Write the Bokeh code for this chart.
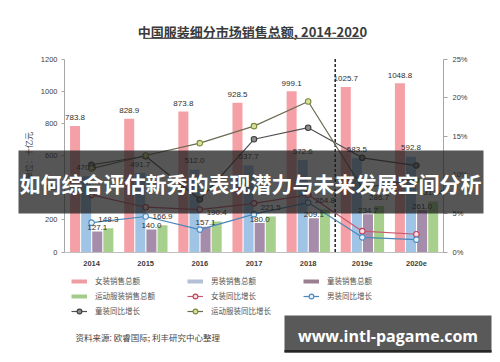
from bokeh.plotting import figure
from bokeh.models import (Range1d, LinearAxis, FixedTicker, PrintfTickFormatter, Label,
                          BoxAnnotation, Legend, LegendItem, ColumnDataSource)
from bokeh.transform import dodge
from bokeh.core.properties import value
from bokeh.embed import file_html
from bokeh.resources import INLINE

# ---------------- data ----------------
years = ["2014", "2015", "2016", "2017", "2018", "2019e", "2020e"]
women_sales = [783.8, 828.9, 873.8, 928.5, 999.1, 1025.7, 1048.8]
men_sales = [470.3, 491.7, 512.0, 537.7, 572.6, 583.5, 592.8]
kids_sales = [127.1, 140.0, 157.1, 180.0, 209.1, 234.7, 261.0]
sports_sales = [148.3, 166.9, 190.4, 221.5, 264.8, 286.7, 313.4]

women_growth = [7.4, 5.8, 5.5, 6.3, 7.4, 2.7, 2.3]
men_growth = [3.8, 4.6, 2.9, 4.9, 6.4, 1.9, 1.6]
kids_growth = [11.3, 12.4, 6.8, 14.6, 16.1, 12.2, 11.2]
sports_growth = [10.8, 12.5, 14.1, 16.3, 19.5, 8.3, 9.3]

left_ticks = [0, 200, 400, 600, 800, 1000, 1200]
right_ticks = [0, 5, 10, 15, 20, 25]
forecast_start = "2019e"

title_text = "中国服装细分市场销售总额, 2014-2020"
unit_text = "单位：十亿元"
source_text = "资料来源: 欧睿国际; 利丰研究中心整理"
banner_text = "如何综合评估新秀的表现潜力与未来发展空间分析"
watermark_text = "www.intl-pagame.com"

sales_names = ["女装销售总额", "男装销售总额", "童装销售总额", "运动服装销售总额"]
growth_names = ["女装同比增长", "男装同比增长", "童装同比增长", "运动服装同比增长"]

# ---------------- layout / styles ----------------
W, H = 500, 362
PLOT_L, PLOT_R, PLOT_T, PLOT_B = 64, 443, 58.5, 251.5   # chart area in canvas px
CJK = "Noto Sans CJK SC"
NUM = "Liberation Sans"
bar_colors = ["#f4a0a6", "#9fc4e6", "#a68cab", "#a8d08d"]
legend_bar_colors = ["#f09ca3", "#b3c0d8", "#9a7f90", "#a3cc8a"]
line_colors = ["#c85a6e", "#4a86b8", "#505050", "#6b6b52"]
marker_lines = ["#c0405a", "#4a8ac0", "#3c3c3c", "#7a8a3a"]
marker_fills = ["#f8dde3", "#e6f0fa", "#8c8c8c", "#d6e29c"]
bar_offsets = [-0.305, -0.1, 0.105, 0.31]
bar_width = 0.185
label_offsets = [50, 55, 25, 55]

n = len(years)
xs = [i + 0.5 for i in range(n)]
px_x = (PLOT_R - PLOT_L) / n
px_y = (PLOT_B - PLOT_T) / (left_ticks[-1] - left_ticks[0])
px_p = (PLOT_B - PLOT_T) / (right_ticks[-1] - right_ticks[0])
x_range = Range1d(-PLOT_L / px_x, n + (W - PLOT_R) / px_x)
y_range = Range1d(left_ticks[0] - (H - PLOT_B) / px_y, left_ticks[-1] + PLOT_T / px_y)
p_range = Range1d(right_ticks[0] - (H - PLOT_B) / px_p, right_ticks[-1] + PLOT_T / px_p)

src = ColumnDataSource(dict(
    x=xs,
    s0=women_sales, s1=men_sales, s2=kids_sales, s3=sports_sales,
    t0=[f"{v:.1f}" for v in women_sales], t1=[f"{v:.1f}" for v in men_sales],
    t2=[f"{v:.1f}" for v in kids_sales], t3=[f"{v:.1f}" for v in sports_sales],
    g0=women_growth, g1=men_growth, g2=kids_growth, g3=sports_growth,
))

p = figure(width=W, height=H, title=None, x_range=x_range, y_range=y_range,
           output_backend="svg", toolbar_location=None,
           min_border=0, min_border_left=0, min_border_right=0,
           min_border_top=0, min_border_bottom=0)
p.extra_y_ranges = {"pct": p_range}
p.outline_line_color = None
p.xgrid.visible = False
p.ygrid.visible = False
p.background_fill_color = "white"
p.border_fill_color = "white"

# axes (fixed inside the full-canvas frame)
xa = p.xaxis[0]
xa.fixed_location = left_ticks[0]
xa.bounds = (0, n)
xa.ticker = FixedTicker(ticks=xs)
xa.major_label_overrides = {x: y for x, y in zip(xs, years)}
xa.axis_line_color = "#bfbfbf"
xa.major_tick_line_color = None
xa.minor_tick_line_color = None
xa.major_label_text_font = NUM
xa.major_label_text_font_size = "7.5px"
xa.major_label_text_font_style = "bold"
xa.major_label_text_color = "#404040"
xa.major_label_standoff = 3

ya = p.yaxis[0]
ya.fixed_location = 0
ya.bounds = (left_ticks[0], left_ticks[-1])
ya.ticker = FixedTicker(ticks=left_ticks)
ya.axis_line_color = "#a6a6a6"
ya.major_tick_line_color = "#a6a6a6"
ya.major_tick_in = 0
ya.major_tick_out = 3
ya.minor_tick_line_color = None
ya.major_label_text_font = NUM
ya.major_label_text_font_size = "7.5px"
ya.major_label_text_color = "#404040"
ya.major_label_standoff = 4
ya.axis_label = unit_text
ya.axis_label_text_font = CJK
ya.axis_label_text_font_size = "8px"
ya.axis_label_text_font_style = "normal"
ya.axis_label_text_color = "#404040"
ya.axis_label_standoff = 4

ra = LinearAxis(y_range_name="pct", ticker=FixedTicker(ticks=right_ticks),
                formatter=PrintfTickFormatter(format="%d%%"),
                fixed_location=n, bounds=(right_ticks[0], right_ticks[-1]))
ra.axis_line_color = "#a6a6a6"
ra.major_tick_line_color = "#a6a6a6"
ra.major_tick_in = 0
ra.major_tick_out = 4
ra.minor_tick_line_color = None
ra.major_label_text_font = NUM
ra.major_label_text_font_size = "7.5px"
ra.major_label_text_color = "#404040"
ra.major_label_standoff = 5
p.add_layout(ra, "right")

# bars
for i in range(4):
    p.vbar(x=dodge("x", bar_offsets[i]), top=f"s{i}", bottom=0,
           width=bar_width, source=src, fill_color=bar_colors[i], line_color=None)

# forecast divider (boundary before the first forecast year)
b = years.index(forecast_start)
p.segment(x0=[b], x1=[b], y0=[left_ticks[0]], y1=[left_ticks[-1]],
          line_color="#222222", line_width=1.5, line_dash="3 2")

# growth lines
line_rs, mark_rs = [], []
for i in range(4):
    lr = p.line(x="x", y=f"g{i}", source=src, y_range_name="pct",
                line_color=line_colors[i], line_width=1.2)
    mr = p.scatter(x="x", y=f"g{i}", source=src, y_range_name="pct", size=5.5,
                   fill_color=marker_fills[i], line_color=marker_lines[i], line_width=1.1)
    line_rs.append(lr)
    mark_rs.append(mr)

# value labels
for i in range(4):
    p.text(x=dodge("x", bar_offsets[i]), y=dodge(f"s{i}", label_offsets[i]),
           text=f"t{i}", source=src, text_align="center", text_baseline="middle",
           text_font=value(NUM), text_font_size="8px", text_color="#303030")

# legend-only renderers for the bar series (NaN data: nothing drawn in the plot)
nan = float("nan")
bar_leg_rs = [p.line(x=[nan, nan], y=[nan, nan], line_color=legend_bar_colors[i], line_width=4)
              for i in range(4)]

def item(k, kind):
    if kind == "bar":
        return LegendItem(label=sales_names[k], renderers=[bar_leg_rs[k]])
    return LegendItem(label=growth_names[k], renderers=[line_rs[k], mark_rs[k]])

columns = [
    ([item(0, "bar"), item(3, "bar"), item(2, "line")], 71, H - 316.5),
    ([item(1, "bar"), item(0, "line"), item(3, "line")], 187, H - 316.5),
    ([item(2, "bar"), item(1, "line")], 303, H - 301.5),
]
for items, lx, ly in columns:
    lg = Legend(items=items, location=(lx, ly), orientation="vertical",
                padding=0, margin=0, spacing=3, glyph_width=16, glyph_height=12,
                label_height=12, label_standoff=8,
                label_text_font=CJK, label_text_font_size="7.5px", label_text_color="#555555",
                background_fill_alpha=0, border_line_alpha=0)
    p.add_layout(lg, "center")

def box(l, r, t, btm, color, alpha=1.0):
    p.add_layout(BoxAnnotation(left=l, right=r, top=H - t, bottom=H - btm,
                               left_units="screen", right_units="screen",
                               top_units="screen", bottom_units="screen",
                               fill_color=color, fill_alpha=alpha, line_color=None))

def label(x, y, text, font, size, color, style="normal", align="center"):
    p.add_layout(Label(x=x, y=H - y, x_units="screen", y_units="screen", text=text,
                       text_align=align, text_baseline="middle", text_font=font,
                       text_font_size=size, text_font_style=style, text_color=color))

# title with underline
label(252, 31, title_text, CJK, "13px", "#3a3a3a", style="bold")
box(143, 362, 37.2, 38.4, "#555555")

# source note
label(75, 336, source_text, CJK, "8.5px", "#444444", align="left")

# overlay banner
box(18, 483, 150, 213, "#1e1e1e", 0.75)
label(250, 182, banner_text, CJK, "21px", "white", style="bold")

# watermark box
box(284, 491, 315, 352, "#595959")
box(284, 491, 349.5, 352, "#262626")
label(387.5, 335, watermark_text, "Open Sans", "16px", "white", style="bold")

open("out.html", "w").write(file_html(p, INLINE))
